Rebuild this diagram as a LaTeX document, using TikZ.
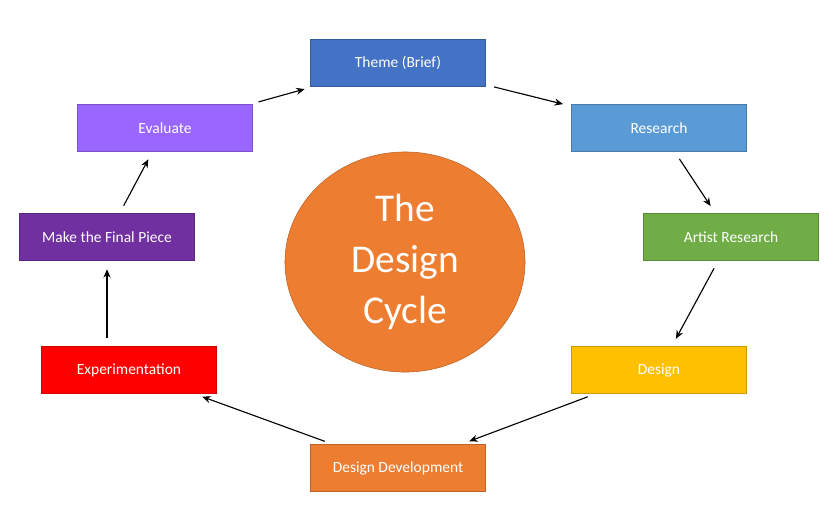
\documentclass[tikz,border=0pt]{standalone}
\usepackage{fontspec}
\setmainfont{Carlito}
\usetikzlibrary{arrows.meta,shapes.geometric}
\definecolor{cTheme}{RGB}{68,114,196}
\definecolor{cResearch}{RGB}{91,155,213}
\definecolor{cArtist}{RGB}{112,173,71}
\definecolor{cDesign}{RGB}{255,192,0}
\definecolor{cDev}{RGB}{237,125,49}
\definecolor{cExp}{RGB}{255,0,0}
\definecolor{cMake}{RGB}{112,48,160}
\definecolor{cEval}{RGB}{153,102,255}
\tikzset{
  stage/.style={draw=#1!80!black, fill=#1, minimum width=4.375cm, minimum height=1.175cm,
    text=white, font=\fontsize{11}{13}\selectfont, inner sep=0pt},
  flow/.style={-{Stealth[length=6pt,width=5pt]}, thick, shorten >=6pt, shorten <=6pt}
}
\begin{document}
\begin{tikzpicture}[x=0.025cm,y=-0.025cm]
			%Fundo
			\useasboundingbox[fill=white] (0,0) rectangle (840,516);
			
			%Centro
			\node[ellipse, draw=cDev!80!black, fill=cDev, minimum width=6cm, minimum height=5.5cm,
			  text=white, align=center, font=\fontsize{28}{36}\selectfont] (cycle) at (405,262) {The\\Design\\Cycle};
			
			%Etapas
			\node[stage=cTheme] (theme) at (398,63) {Theme (Brief)};
			\node[stage=cResearch] (research) at (659,128) {Research};
			\node[stage=cArtist] (artist) at (731,237) {Artist Research};
			\node[stage=cDesign] (design) at (659,370) {Design};
			\node[stage=cDev] (dev) at (398,468) {Design Development};
			\node[stage=cExp] (exp) at (129,370) {Experimentation};
			\node[stage=cMake] (make) at (107,237) {Make the Final Piece};
			\node[stage=cEval] (eval) at (165,128) {Evaluate};
			
			%Setas
			\draw[flow] (eval) -- (theme);
			\draw[flow] (theme) -- (research);
			\draw[flow] (research) -- (artist);
			\draw[flow] (artist) -- (design);
			\draw[flow] (design) -- (dev);
			\draw[flow] (dev) -- (exp);
			\draw[flow] (exp.north -| make) -- (make);
			\draw[flow] (make) -- (eval);
		\end{tikzpicture}
\end{document}
